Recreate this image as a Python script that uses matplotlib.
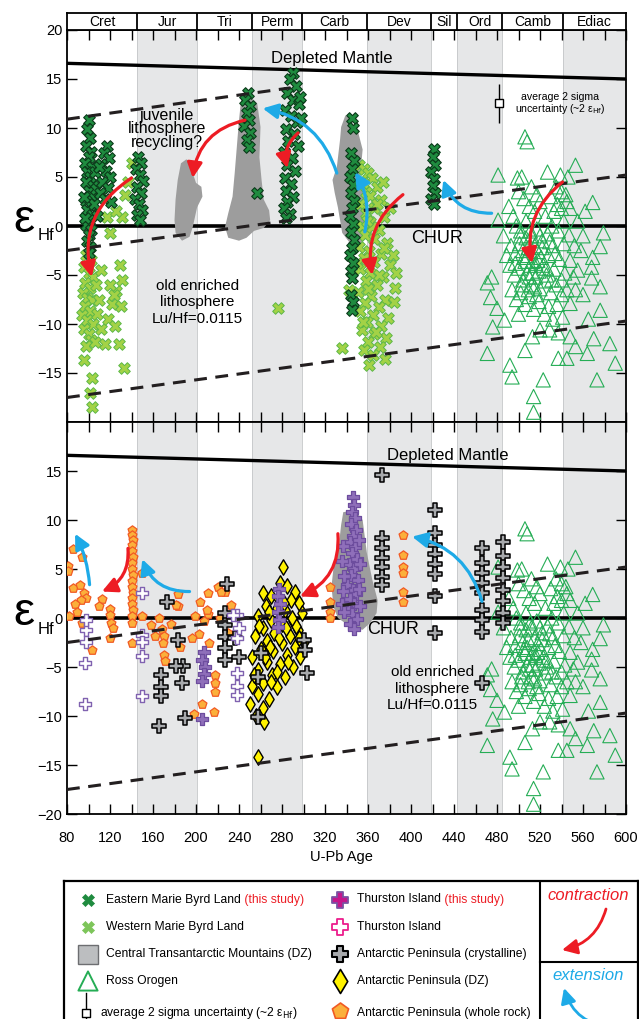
import matplotlib.pyplot as plt
import numpy as np
from matplotlib.patches import FancyArrowPatch, Rectangle, Polygon

plt.rcParams['font.family'] = ['Liberation Sans', 'DejaVu Sans']

# geological periods along the top
periods = ['Cret', 'Jur', 'Tri', 'Perm', 'Carb', 'Dev', 'Sil', 'Ord', 'Camb', 'Ediac']
period_bounds = [80, 145, 201, 252, 299, 359, 419, 443, 485, 541, 600]
shaded = [False, True, False, True, False, True, False, True, False, True]

# reference evolution lines (age, eHf)
dm_age = [80, 600]
dm_ehf = [16.6, 15.0]
juv_age = [80, 288]
juv_ehf = [10.9, 14.1]
mid_age = [80, 600]
mid_ehf = [-2.5, 5.2]
low_age = [80, 600]
low_ehf = [-17.5, -9.7]

# Eastern Marie Byrd Land (this study)
emb_age = [100, 99, 101, 98, 102, 100, 97, 103, 99, 101, 98, 104, 100, 102, 98, 101, 99, 103, 100, 98, 102, 100, 99, 101, 100,
           106, 107, 105, 108, 96, 97,
           117, 114, 119, 112, 116, 120, 113, 118, 111, 115, 121, 110,
           146, 149, 144, 148, 151, 145, 149, 143, 147, 150, 145, 148,
           248, 246, 250, 247, 249, 245, 250, 247, 249, 257,
           290, 287, 293, 285, 290, 296, 283, 288, 294, 284, 291, 286, 295, 282, 289, 285, 292, 283, 288, 284, 290, 285, 282, 287, 284, 297, 298,
           345, 346, 344, 347, 345, 343, 346, 344, 347, 345, 343, 346, 344, 347, 345, 343, 346, 344, 345, 344, 346, 345,
           421, 420, 422, 419, 421, 420, 422, 419, 421]
emb_ehf = [10.8, 9.9, 9.0, 8.2, 7.6, 7.0, 6.4, 6.0, 5.5, 5.0, 4.5, 4.1, 3.6, 3.1, 2.6, 2.1, 1.6, 1.1, 0.6, 0.1, -0.4, -0.9, -1.5, -2.1, -2.8,
           5.5, 3.8, 2.2, 1.0, 3.0, 0.8,
           8.2, 7.4, 6.9, 6.3, 5.6, 5.0, 4.5, 3.9, 3.4, 2.8, 2.4, 6.0,
           7.0, 6.4, 5.8, 5.2, 4.6, 4.0, 3.4, 2.8, 2.2, 1.6, 1.1, 0.6,
           13.6, 12.9, 12.2, 11.5, 10.8, 10.2, 9.5, 8.8, 8.1, 3.4,
           15.6, 15.0, 14.3, 13.6, 12.9, 12.4, 11.8, 11.2, 10.6, 9.9, 9.4, 8.7, 8.2, 7.5, 6.9, 6.2, 5.6, 4.9, 4.3, 3.6, 3.0, 2.4, 1.8, 1.2, 0.8, 13.2, 11.0,
           11.0, 10.0, 7.4, 6.6, 5.8, 5.0, 4.2, 3.4, 2.6, 1.8, 1.0, 0.2, -0.6, -1.4, -2.2, -3.0, -3.8, -4.6, -5.3, -7.0, -7.8, -8.6,
           7.9, 7.0, 6.2, 5.5, 4.8, 4.1, 3.4, 2.8, 2.2]

# Western Marie Byrd Land
wmb_age = [98, 102, 96, 100, 104, 97, 101, 95, 99, 103, 97, 101, 94, 99, 104, 96, 100, 102, 98, 96, 103, 101, 103,
           107, 110, 108, 112, 106, 115, 118, 122, 125, 126, 130, 128, 133, 120, 112, 129, 131, 124,
           140, 134, 117, 131, 126, 120, 137,
           276,
           352, 356, 360, 364, 355, 368, 358, 362, 372, 353, 366, 358, 375, 362, 354, 370, 357, 366, 378, 352, 361, 372, 356,
           366, 380, 353, 362, 374, 358, 368, 385, 351, 363, 376, 357, 370, 353, 365, 379, 359, 372, 354, 366, 377, 360, 371,
           356, 365, 376, 361, 383, 386, 384, 342, 336, 380, 374, 350, 368, 360, 364, 370, 355, 359, 375, 367]
wmb_ehf = [-3.0, -3.5, -4.2, -4.8, -5.2, -5.8, -6.3, -6.8, -7.3, -7.6, -8.2, -8.7, -9.1, -9.6, -10.0, -10.5, -11.0, -11.6, -12.2, -13.7, -15.5, -17.0, -18.5,
           -6.0, -7.5, -9.0, -10.5, -11.8, -12.0, -9.5, -8.0, -10.2, -6.6, -8.2, -12.0, -14.5, -6.0, -4.5, -4.0, -5.5, -7.0,
           6.4, 3.2, 0.9, 0.9, 1.5, -0.7, 4.5,
           -8.4,
           6.2, 5.8, 5.4, 4.9, 4.4, 4.0, 3.5, 3.1, 2.7, 2.2, 1.8, 1.3, 0.9, 0.4, 0.0, -0.4, -0.9, -1.3, -1.7, -2.1, -2.5, -2.9, -3.3,
           -3.7, -4.0, -4.4, -4.8, -5.2, -5.6, -6.0, -6.3, -6.7, -7.1, -7.5, -7.9, -8.3, -8.7, -9.1, -9.4, -9.8, -10.2, -10.6, -11.0, -11.4, -11.8, -12.3,
           -12.7, -13.2, -13.6, -14.2, -3.0, -4.8, -7.8, -6.5, -12.4, 1.8, 4.5, -3.8, 2.2, -6.4, -0.1, -5.0, -9.8, 0.5, -2.2, -10.8]

# Central Transantarctic Mountains detrital zircon fields (age, eHf outlines)
ctam_a = [(191, 6.8), (186, 6.4), (183, 4.7), (181, 2.7), (180, 0.6), (181, -0.7), (187, -1.5), (194, -1.1), (197, -0.1),
          (201, 1.9), (206, 3.0), (205, 4.0), (200, 4.4), (197, 5.4), (197, 6.4)]
ctam_b = [(247, 13.6), (257, 12.5), (260, 10.1), (259, 7.0), (261, 4.7), (263, 2.7), (268, 1.6), (269, 0.6), (263, -0.2),
          (254, -0.5), (247, -1.2), (240, -1.5), (230, -1.2), (227, -0.1), (230, 1.3), (234, 3.0), (236, 5.4), (238, 8.1),
          (240, 10.8), (242, 12.9)]
ctam_c = [(339, 11.3), (343, 11.0), (351, 9.5), (355, 7.8), (353, 5.4), (355, 3.7), (359, 1.9), (362, 0.6), (360, -1.1),
          (353, -1.8), (345, -2.0), (336, -0.7), (334, 0.6), (332, 1.9), (329, 3.4), (327, 4.7), (331, 6.0), (334, 8.8),
          (335, 10.1)]
ctam_d = [(337, 10.8), (348, 11.0), (355, 10.0), (359, 6.6), (364, 3.9), (369, 1.8), (368, 0.5), (362, -0.5), (355, -1.2),
          (345, -1.0), (332, 0.0), (328, 1.1), (326, 3.2), (328, 5.2), (333, 7.5), (335, 9.5)]

# Ross Orogen
ross_age = [553, 539, 546, 481, 499, 569, 517, 481, 579, 576, 569, 568, 568, 576, 576, 551, 553, 548, 541, 537, 548, 564,
            553, 545, 537, 573, 523, 514, 514, 492, 494, 471, 506, 513, 520, 529, 474, 480, 476, 487, 471, 475, 506, 508,
            500, 505, 510, 515, 520, 525, 530, 535, 540, 545, 533, 542, 548,
            495, 498, 502, 507, 512, 517, 522, 527, 532, 537, 542, 547,
            493, 497, 501, 505, 509, 513, 518, 523, 528, 533, 538, 543,
            492, 496, 500, 504, 508, 512, 516, 520, 525, 530, 535, 540,
            494, 498, 502, 506, 510, 514, 519, 524, 528, 532, 500, 489, 486, 491, 503, 512, 527, 555, 558, 560, 562, 548, 552,
            507, 511, 515, 519, 503, 509, 517, 497, 521, 526, 531, 536, 540, 545, 555, 560, 565, 570, 585, 590,
            504, 508, 513, 518, 522, 526, 502, 510, 515, 520, 511, 516, 506, 536, 540, 531, 544, 534, 529]
ross_ehf = [6.2, 5.2, 5.0, 5.2, 4.9, 2.4, 3.2, 0.6, -0.7, -2.1, -3.2, -4.2, -5.3, -6.2, -8.6, -5.2, -6.5, -7.9, -9.3, -10.9, -11.3, -13.0,
            -12.3, -13.5, -13.5, -15.7, -15.7, -17.4, -19.0, -14.2, -15.4, -13.0, -12.7, -11.3, -10.6, -10.6, -7.3, -8.4, -10.3, -9.6, -5.8, -5.2, 9.1, 8.6,
            3.5, 2.8, 2.0, 1.5, 2.5, 1.0, 3.0, 4.0, 3.5, 2.5, 1.5, 0.5, 1.8,
            1.0, 0.0, -0.5, 0.5, -1.0, -0.3, -1.5, -0.8, -2.0, -0.5, -1.8, -0.9,
            -2.0, -2.8, -1.8, -3.2, -2.2, -3.6, -2.6, -4.0, -3.0, -4.4, -3.4, -4.8,
            -4.0, -5.0, -4.3, -5.5, -4.8, -6.0, -5.2, -6.4, -5.6, -6.8, -6.0, -7.0,
            -6.5, -7.5, -6.8, -8.0, -7.2, -8.5, -7.7, -9.0, -8.2, -9.5, -9.0, -3.0, -1.0, 2.0, 5.0, 4.0, 5.5, 0.5, -2.5, -1.0, 1.5, -3.5, -2.0,
            -1.2, -4.0, -2.0, -4.6, -6.0, -6.5, -7.0, -3.8, -3.2, -5.0, -5.5, -8.0, -5.5, -6.5, -4.5, -7.0, -9.5, -11.5, -12.0, -14.0,
            -2.5, -3.0, -4.8, -3.5, -2.2, -4.3, -1.0, -5.2, -6.2, -1.0, -0.5, -3.8, -3.6, 2.2, 1.8, 0.0, 3.2, -2.8, -1.6]

# Antarctic Peninsula (whole rock)
apw_age = [81, 81, 86, 94, 86, 92, 96, 98, 93, 87, 113, 120, 82, 94, 120, 121, 123, 120, 103, 89, 110,
           140, 140, 141, 140, 140, 141, 140, 140, 141, 140, 140, 141, 140, 140, 141, 140, 140, 140,
           150, 150, 183, 183, 204, 211, 211, 220, 233, 227, 166, 168, 170, 169, 170, 171, 162, 158, 177, 199, 203, 207,
           210, 218, 218, 218, 206, 198, 217, 212, 222, 230, 196, 185, 181, 223,
           325, 325, 325, 325, 393, 393, 393, 393, 393, 393]
apw_ehf = [5.3, 4.8, 7.0, 6.2, 3.1, 3.4, 2.6, 2.0, 1.8, 1.4, 1.9, 0.9, 0.2, -0.5, 0.3, -0.5, -1.0, -2.0, -3.3, 0.6, 1.2,
           9.0, 8.5, 8.0, 7.4, 6.8, 6.2, 5.6, 5.0, 4.4, 3.8, 3.2, 2.6, 2.0, 1.4, 0.8, 0.2, -0.5, -2.5,
           4.6, 0.2, 2.4, 1.2, 1.6, 2.6, 0.4, 3.2, 1.3, 2.7, 0.0, -1.1, -1.8, -2.6, -3.8, -4.4, -1.8, -0.7, -0.6, 0.2, -1.6, -0.3,
           0.8, -5.8, -6.6, -7.5, -8.8, -9.8, -9.6, -2.5, 0.0, -1.5, -2.0, -3.0, 1.3, 2.7,
           3.2, 1.6, 0.6, 0.0, 8.5, 6.4, 5.2, 4.6, 2.7, 1.6]

# Antarctic Peninsula (crystalline)
apc_age = [229, 173, 227, 227, 227, 227, 227, 183, 188, 181, 187, 167, 167, 167, 166, 190, 260, 258, 258, 300, 301, 303, 236, 240,
           373, 373, 373, 373, 373, 373, 373, 422, 422, 422, 422, 422, 422, 422, 422,
           466, 466, 466, 466, 466, 466, 466, 466, 466, 486, 486, 486, 486, 486, 486, 486, 486]
apc_ehf = [3.5, 1.6, 0.5, -0.7, -1.9, -3.1, -4.3, -2.2, -4.9, -4.9, -6.6, -5.8, -7.0, -8.0, -11.0, -10.2, -3.6, -6.0, -10.1, -2.2, -3.3, -5.6, -2.0, -4.0,
           14.6, 8.2, 7.1, 6.1, 5.2, 4.2, 3.4, 11.0, 8.7, 7.5, 6.5, 5.5, 4.5, 2.2, -1.5,
           7.1, 5.6, 4.6, 3.6, 2.6, 0.8, -0.2, -1.4, -6.6, 7.8, 6.3, 5.2, 4.1, 2.9, 1.7, 0.5, -0.5]

# Antarctic Peninsula (detrital zircon)
apd_age = [281, 278, 285, 262, 292, 270, 288, 296, 265, 275, 283, 299, 258, 270, 290, 280, 262, 295, 273, 287, 255, 266, 300, 280,
           292, 260, 272, 285, 297, 252, 266, 278, 290, 258, 271, 283, 262, 252, 275, 258, 268, 250, 262, 256, 263, 258,
           276, 268, 284, 277, 269, 293, 264, 286, 275, 289, 259, 282, 296, 270, 254]
apd_ehf = [5.2, 3.6, 3.3, 2.6, 2.7, 2.2, 1.8, 1.5, 1.2, 1.0, 0.8, 0.5, 0.2, -0.2, -0.3, -0.6, -1.0, -1.2, -1.5, -1.8, -1.8, -2.3, -2.4, -2.6,
           -3.0, -3.2, -3.4, -3.8, -4.0, -4.0, -4.5, -4.7, -5.0, -5.3, -5.8, -6.0, -6.6, -6.9, -7.0, -7.8, -8.3, -8.8, -9.2, -10.0, -10.6, -14.2,
           2.0, 0.6, -1.0, -2.0, -3.0, -0.8, -4.0, -4.5, -5.5, 0.0, -0.8, 1.5, -2.0, -6.5, -5.8]

# Thurston Island (this study)
tis_age = [346, 347, 345, 348, 344, 349, 346, 343, 348, 345, 350, 342, 347, 344, 351, 340, 346, 349, 343, 347, 341, 345, 350, 343, 347,
           337, 336, 338, 337, 336, 338, 352, 353, 352, 353,
           277, 276, 278, 276, 277, 276, 207, 206, 208, 207, 206, 206]
tis_ehf = [12.3, 11.5, 10.8, 10.2, 9.6, 9.0, 8.4, 7.8, 7.2, 6.6, 6.0, 5.5, 5.0, 4.4, 3.9, 3.4, 2.9, 2.4, 1.9, 1.4, 0.9, 0.4, -0.1, -0.6, -1.1,
           7.3, 5.8, 4.3, 2.8, 1.4, 0.6, 8.0, 5.5, 3.0, 1.2,
           3.0, 2.2, 1.4, 0.6, -0.2, -0.9, -3.5, -4.3, -5.0, -5.7, -6.4, -10.3]

# Thurston Island (published)
tio_age = [150, 98, 98, 97, 97, 98, 150, 150, 150, 150, 238, 238, 238, 238, 238, 240, 234]
tio_ehf = [2.6, -1.2, -2.4, -4.6, -8.8, -0.2, -1.7, -2.4, -3.9, -8.0, 0.3, -2.0, -5.6, -6.9, -7.9, -1.0, 0.3]

# 2 sigma uncertainty symbol
unc_age = 482
unc_ehf = 12.5
unc_err = 2.0

c_red = '#ed1c24'
c_blue = '#1eaae7'

fig = plt.figure(figsize=(6.39, 10.19), dpi=100)
W, H = 639.0, 1019.0


def box(x0, y0, x1, y1):
    return [x0 / W, 1 - y1 / H, (x1 - x0) / W, (y1 - y0) / H]


ax1 = fig.add_axes(box(67, 30, 626, 422))
ax2 = fig.add_axes(box(67, 422, 626, 814))
hdr = fig.add_axes(box(67, 13, 626, 30))
leg = fig.add_axes(box(64, 881, 638, 1030))


def curved(ax, p0, p1, rad, color, lw=2.3):
    ax.add_patch(FancyArrowPatch(p0, p1, connectionstyle='arc3,rad=%s' % rad,
                                 arrowstyle='-|>,head_length=9,head_width=4.5', mutation_scale=1,
                                 color=color, lw=lw, zorder=8, shrinkA=0, shrinkB=0))


def base(ax):
    for i in range(len(periods)):
        if shaded[i]:
            ax.axvspan(period_bounds[i], period_bounds[i + 1], color='#e6e7e8', lw=0, zorder=0)
    for b in period_bounds[1:-1]:
        ax.axvline(b, color='#c4c6c8', lw=0.6, zorder=0.5)
    ax.plot(dm_age, dm_ehf, color='k', lw=2.4, zorder=2)
    ax.axhline(0, color='k', lw=2.6, zorder=2)
    ax.plot(mid_age, mid_ehf, color='#231f20', lw=2.2, dashes=(4.2, 2.8), zorder=7)
    ax.plot(low_age, low_ehf, color='#231f20', lw=2.2, dashes=(4.2, 2.8), zorder=7)
    ax.scatter(ross_age, ross_ehf, marker='^', s=105, facecolors='none', edgecolors='#25ad55', lw=0.8, zorder=3)
    ax.set_xlim(80, 600)
    ax.set_ylim(-20, 20)
    ax.set_xticks(np.arange(80, 601, 40))
    ax.set_xticks(np.arange(100, 600, 40), minor=True)
    ax.tick_params(which='both', direction='in', top=True, right=True, length=7, width=1, labelsize=10.5)
    for s in ax.spines.values():
        s.set_linewidth(1.3)


# ---- top panel ----
base(ax1)
ax1.plot(juv_age, juv_ehf, color='#231f20', lw=2.2, dashes=(4.2, 2.8), zorder=7)
for poly in (ctam_a, ctam_b, ctam_c):
    ax1.add_patch(Polygon(poly, closed=True, fc='#9d9d9d', ec='none', zorder=2.5))
ax1.scatter(wmb_age, wmb_ehf, marker='X', s=70, c='#a3d246', edgecolors='#5db848', lw=0.7, zorder=4)
ax1.scatter(emb_age, emb_ehf, marker='X', s=70, c='#1f8b3f', edgecolors='#0b3a1a', lw=0.8, zorder=5)
ax1.errorbar([unc_age], [unc_ehf], yerr=[unc_err], fmt='s', ms=6, mfc='white', mec='k', mew=1, ecolor='k', elinewidth=1, capsize=0, zorder=6)
ax1.text(539, 13.2, 'average 2 sigma', ha='center', va='center', fontsize=7.6)
ax1.text(539, 11.9, r'uncertainty (~2 ε$_{\mathrm{Hf}}$)', ha='center', va='center', fontsize=7.6)
ax1.set_yticks([-15, -10, -5, 0, 5, 10, 15, 20])
ax1.tick_params(labelbottom=False)
ax1.text(326, 17.1, 'Depleted Mantle', ha='center', va='center', fontsize=12)
ax1.text(424, -1.3, 'CHUR', ha='center', va='center', fontsize=13)
ax1.text(173, 9.9, 'juvenile\nlithosphere\nrecycling?', ha='center', va='center', fontsize=11.5, linespacing=0.88)
ax1.text(201, -7.8, 'old enriched\nlithosphere\nLu/Hf=0.0115', ha='center', va='center', fontsize=11, linespacing=1.25)
curved(ax1, (140, 4.9), (103, -5.2), 0.35, c_red)
curved(ax1, (245.6, 10.8), (197, 4.9), 0.35, c_red)
curved(ax1, (295, 9.5), (285, 5.9), 0.3, c_red)
curved(ax1, (331, 5.4), (262, 12.0), 0.3, c_blue)
curved(ax1, (357, -0.6), (348, 5.5), 0.2, c_blue)
curved(ax1, (392.5, 3.2), (364, -5.0), 0.3, c_red)
curved(ax1, (475, 1.3), (430, 4.7), -0.35, c_blue)
curved(ax1, (541, 4.5), (512.6, -3.8), 0.3, c_red)

# ---- bottom panel ----
base(ax2)
ax2.add_patch(Polygon(ctam_d, closed=True, fc='#9d9d9d', ec='none', zorder=2.5))
ax2.scatter(apw_age, apw_ehf, marker='p', s=45, c='#fbb03b', edgecolors='#f15a24', lw=0.9, zorder=4)
ax2.scatter(apd_age, apd_ehf, marker='d', s=62, c='#fff200', edgecolors='k', lw=1.0, zorder=4)
ax2.scatter(apc_age, apc_ehf, marker='P', s=95, c='#a7a9ac', edgecolors='k', lw=1.1, zorder=5)
ax2.scatter(tio_age, tio_ehf, marker='P', s=85, c='white', edgecolors='#8062b0', lw=1.0, zorder=5)
ax2.scatter(tis_age, tis_ehf, marker='P', s=80, c='#8f6fba', edgecolors='#6d4d9e', lw=0.9, zorder=6)
ax2.set_yticks([-20, -15, -10, -5, 0, 5, 10, 15])
ax2.set_xticklabels([str(v) for v in range(80, 601, 40)])
ax2.tick_params(axis='x', pad=12)
ax2.text(434, 16.6, 'Depleted Mantle', ha='center', va='center', fontsize=12)
ax2.text(383, -1.2, 'CHUR', ha='center', va='center', fontsize=13)
ax2.text(420, -7.2, 'old enriched\nlithosphere\nLu/Hf=0.0115', ha='center', va='center', fontsize=11, linespacing=1.25)
curved(ax2, (101, 3.4), (87.5, 8.6), 0.1, c_blue)
curved(ax2, (136.7, 7.1), (112.5, 2.7), -0.35, c_red)
curved(ax2, (194, 2.7), (150, 6.0), -0.35, c_blue)
curved(ax2, (332, 8.6), (296.7, 2.2), -0.35, c_red)
curved(ax2, (466, 1.7), (401, 8.3), 0.3, c_blue)

# y axis symbols
for yc in (220, 613):
    fig.text(13 / W, 1 - yc / H, 'ε', fontsize=34, ha='left', va='center')
    fig.text(38 / W, 1 - (yc + 16) / H, 'Hf', fontsize=12, ha='left', va='center')
fig.text(341 / W, 1 - 857 / H, 'U-Pb Age', ha='center', va='center', fontsize=10.5)

# ---- period header ----
hdr.set_xlim(80, 600)
hdr.set_ylim(0, 1)
hdr.set_xticks([])
hdr.set_yticks([])
for s in hdr.spines.values():
    s.set_linewidth(1.3)
for b in period_bounds[1:-1]:
    hdr.axvline(b, color='k', lw=1.3)
for i, name in enumerate(periods):
    hdr.text((period_bounds[i] + period_bounds[i + 1]) / 2, 0.45, name, ha='center', va='center', fontsize=10)

# ---- legend ----
leg.set_xlim(64, 638)
leg.set_ylim(1030, 881)
leg.set_xticks([])
leg.set_yticks([])
for s in leg.spines.values():
    s.set_linewidth(1.6)
leg.plot([540, 540], [881, 1030], color='k', lw=1.5)
leg.plot([540, 638], [961.6, 961.6], color='k', lw=1.5)
fs = 8.7
rows = [899.5, 927, 954, 981, 1013]
leg.scatter([88], [rows[0]], marker='X', s=75, c='#1f8b3f', edgecolors='#1f8b3f', lw=0.5)
leg.scatter([88], [rows[1]], marker='X', s=75, c='#7dc55a', edgecolors='#7dc55a', lw=0.5)
leg.add_patch(Rectangle((77.5, 944.5), 20, 19, fc='#bcbec0', ec='#6d6e71', lw=1))
leg.scatter([88], [rows[3]], marker='^', s=190, facecolors='none', edgecolors='#25ad55', lw=1.4)
leg.plot([86, 86], [993, 1030], color='k', lw=1)
leg.scatter([86], [rows[4]], marker='s', s=40, c='white', edgecolors='k', lw=1, zorder=3)
t = leg.text(106, rows[0], 'Eastern Marie Byrd Land', va='center', fontsize=fs)
leg.annotate(' (this study)', xy=(1, 0.5), xycoords=t, va='center', fontsize=fs, color=c_red)
leg.text(106, rows[1], 'Western Marie Byrd Land', va='center', fontsize=fs)
leg.text(106, rows[2], 'Central Transantarctic Mountains (DZ)', va='center', fontsize=fs)
leg.text(106, rows[3], 'Ross Orogen', va='center', fontsize=fs)
leg.text(100, rows[4], r'average 2 sigma uncertainty (~2 ε$_{\mathrm{Hf}}$)', va='center', fontsize=fs)

leg.scatter([340], [rows[0]], marker='P', s=130, c='#c4168c', edgecolors='#7b52a3', lw=1.3)
leg.scatter([340], [rows[1]], marker='P', s=130, c='white', edgecolors='#ec1c8c', lw=1.3)
leg.scatter([340], [rows[2]], marker='P', s=130, c='#a7a9ac', edgecolors='k', lw=1.5)
leg.scatter([340], [rows[3]], marker='d', s=150, c='#fff200', edgecolors='k', lw=1.2)
leg.scatter([340], [rows[4] - 2], marker='p', s=150, c='#fbb03b', edgecolors='#f15a24', lw=1.2)
t = leg.text(357, rows[0], 'Thurston Island', va='center', fontsize=fs)
leg.annotate(' (this study)', xy=(1, 0.5), xycoords=t, va='center', fontsize=fs, color=c_red)
leg.text(357, rows[1], 'Thurston Island', va='center', fontsize=fs)
leg.text(357, rows[2], 'Antarctic Peninsula (crystalline)', va='center', fontsize=fs)
leg.text(357, rows[3], 'Antarctic Peninsula (DZ)', va='center', fontsize=fs)
leg.text(357, rows[4], 'Antarctic Peninsula (whole rock)', va='center', fontsize=fs)

leg.text(588, 895, 'contraction', ha='center', va='center', fontsize=12, style='italic', color=c_red)
leg.text(588, 975, 'extension', ha='center', va='center', fontsize=12, style='italic', color=c_blue)
curved(leg, (606, 909), (562, 950), -0.3, c_red, lw=2)
curved(leg, (613, 1027), (564, 988), -0.35, c_blue, lw=2)

fig.savefig('out.png', dpi=100)
